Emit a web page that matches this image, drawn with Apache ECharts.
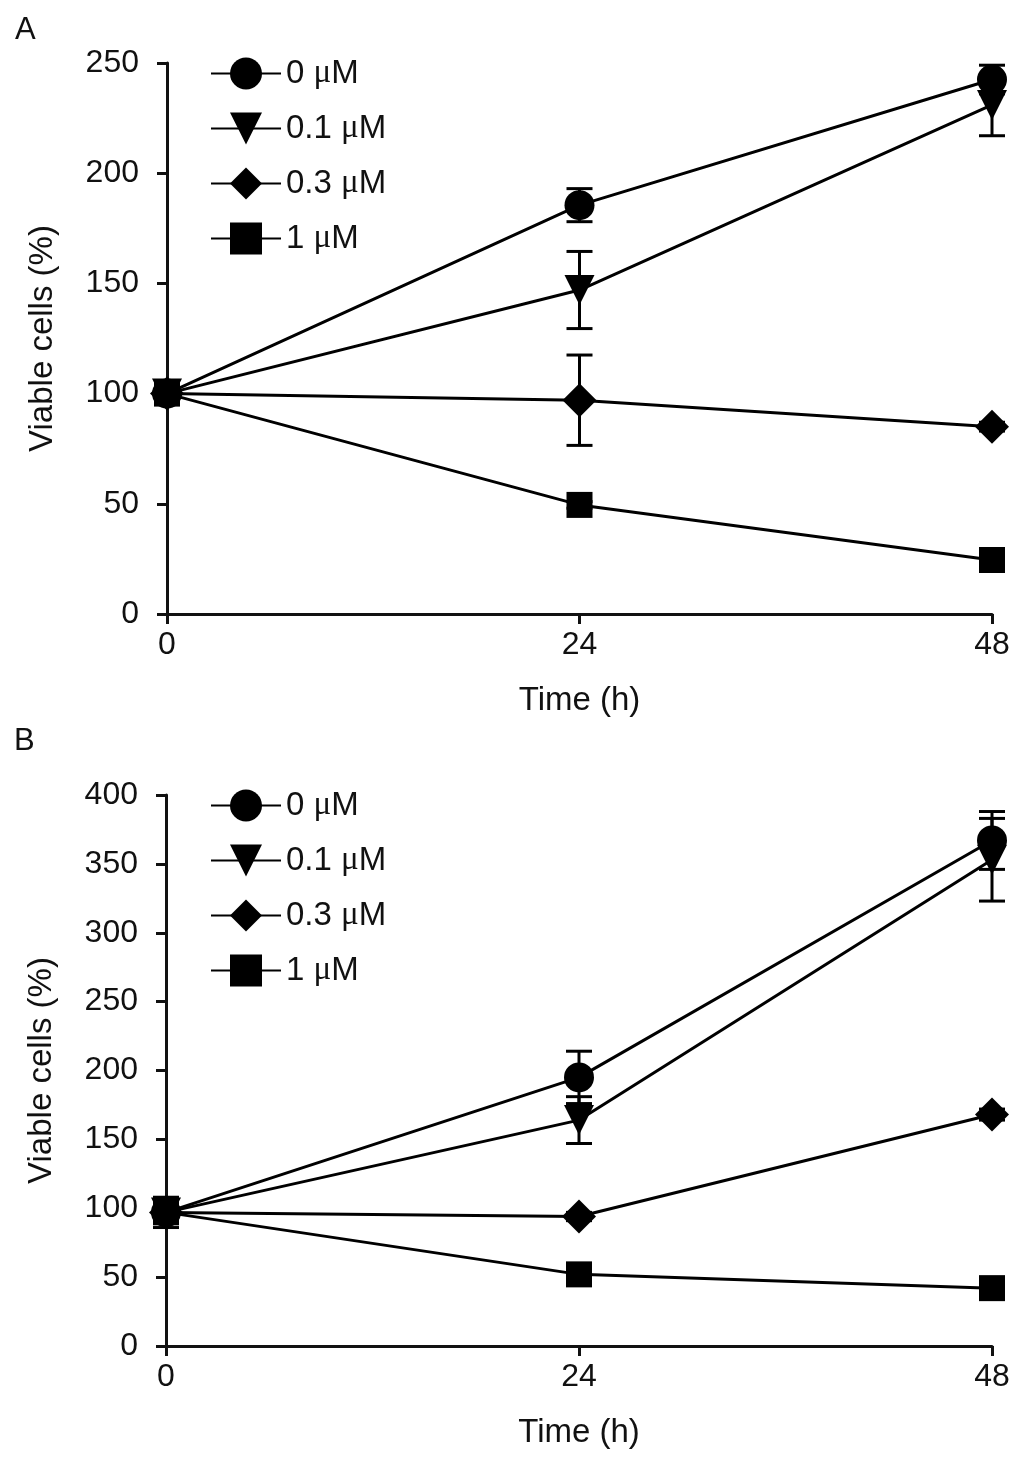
<!DOCTYPE html>
<html>
<head>
<meta charset="utf-8">
<script src="https://cdn.jsdelivr.net/npm/echarts@6/dist/echarts.min.js"></script>
<style>
html,body{margin:0;padding:0;background:#fff;}
#chart{width:1024px;height:1460px;}
</style>
</head>
<body>
<div id="chart"></div>
<script>
// ---- data ----
const times = [0, 24, 48];
const seriesNames = ['0 μM', '0.1 μM', '0.3 μM', '1 μM'];
const xTicks = [0, 24, 48];

// Panel A
const a0 = [100, 185.5, 242.5];
const a01 = [100, 147, 231];
const a03 = [100, 97, 85];
const a1 = [100, 49.5, 24.5];
const a0Err = [0, 7.5, 6.5];
const a01Err = [0, 17.5, 14];
const a03Err = [0, 20.5, 2];
const a1Err = [0, 1.5, 1.5];

// Panel B
const b0 = [97, 195, 367];
const b01 = [97, 164, 353];
const b03 = [97, 94, 168];
const b1 = [97, 52, 42];
const b0Err = [11, 19, 21];
const b01Err = [0, 17, 30];
const b03Err = [0, 3, 4];
const b1Err = [0, 2, 2];

// ---- chart ----
const FONT = 'Liberation Sans';
const INK = '#111';
const symbols = ['circle', 'triangle', 'diamond', 'rect'];
const rotates = [0, 180, 0, 0];
const sizes = [30, 30, 34, 26];

function lineSeries(name, vals, k, idx) {
  return {
    name: name, type: 'line', xAxisIndex: idx, yAxisIndex: idx,
    data: times.map((t, i) => [t, vals[i]]),
    symbol: symbols[k], symbolRotate: rotates[k], symbolSize: sizes[k],
    showAllSymbol: true,
    lineStyle: {color: '#000', width: 3},
    itemStyle: {color: '#000'},
    z: 3, clip: false, animation: false
  };
}
function errSeries(vals, errs, idx) {
  const d = [];
  times.forEach((t, i) => { if (errs[i] > 0) d.push([t, vals[i], errs[i]]); });
  return {
    type: 'custom', xAxisIndex: idx, yAxisIndex: idx, data: d, z: 2,
    animation: false, silent: true,
    renderItem: function (params, api) {
      const x = api.value(0), y = api.value(1), e = api.value(2);
      const top = api.coord([x, y + e]);
      const bot = api.coord([x, y - e]);
      const w = 13;
      const st = {stroke: '#000', lineWidth: 3};
      return {type: 'group', children: [
        {type: 'line', shape: {x1: top[0], y1: top[1], x2: bot[0], y2: bot[1]}, style: st},
        {type: 'line', shape: {x1: top[0] - w, y1: top[1], x2: top[0] + w, y2: top[1]}, style: st},
        {type: 'line', shape: {x1: bot[0] - w, y1: bot[1], x2: bot[0] + w, y2: bot[1]}, style: st}
      ]};
    }
  };
}

function xAx(idx) {
  return {
    type: 'value', gridIndex: idx, min: 0, max: 48, interval: 24,
    name: 'Time (h)', nameLocation: 'middle', nameGap: 70,
    nameTextStyle: {fontFamily: FONT, fontSize: 33, color: INK},
    axisLine: {show: true, lineStyle: {color: INK, width: 3}},
    axisTick: {show: true, length: 10, lineStyle: {color: INK, width: 3}},
    axisLabel: {fontFamily: FONT, fontSize: 32, color: INK, margin: 15,
      formatter: v => xTicks.includes(v) ? String(v) : ''},
    splitLine: {show: false}
  };
}
function yAx(idx, max) {
  return {
    type: 'value', gridIndex: idx, min: 0, max: max, interval: 50,
    name: 'Viable cells (%)', nameLocation: 'middle', nameGap: 108,
    nameTextStyle: {fontFamily: FONT, fontSize: 33, color: INK},
    axisLine: {show: true, lineStyle: {color: INK, width: 3}},
    axisTick: {show: true, length: 10, lineStyle: {color: INK, width: 3}},
    axisLabel: {fontFamily: FONT, fontSize: 32, color: INK, margin: 28},
    splitLine: {show: false}
  };
}
function legend(top) {
  return {
    data: seriesNames, orient: 'vertical', left: 205, top: top,
    itemWidth: 70, itemHeight: 40, itemGap: 22,
    selectedMode: false,
    textStyle: {fontFamily: FONT, fontSize: 33, color: INK, padding: [0, 0, 0, 0],
      rich: {u: {fontFamily: 'Liberation Serif', fontSize: 33, color: INK}}},
    formatter: n => n.replace('μ', '{u|μ}')
  };
}

const option = {
  backgroundColor: '#fff',
  animation: false,
  title: [
    {text: 'A', left: 10, top: 10, textStyle: {fontFamily: FONT, fontSize: 31, fontWeight: 'normal', color: INK}},
    {text: 'B', left: 9, top: 721, textStyle: {fontFamily: FONT, fontSize: 31, fontWeight: 'normal', color: INK}}
  ],
  legend: [legend(52), legend(784)],
  grid: [
    {left: 167, right: 32, top: 63, height: 551},
    {left: 166, right: 32, top: 795, height: 551}
  ],
  xAxis: [xAx(0), xAx(1)],
  yAxis: [yAx(0, 250), yAx(1, 400)],
  series: [
    errSeries(a0, a0Err, 0), errSeries(a01, a01Err, 0), errSeries(a03, a03Err, 0), errSeries(a1, a1Err, 0),
    lineSeries(seriesNames[0], a0, 0, 0), lineSeries(seriesNames[1], a01, 1, 0),
    lineSeries(seriesNames[2], a03, 2, 0), lineSeries(seriesNames[3], a1, 3, 0),
    errSeries(b0, b0Err, 1), errSeries(b01, b01Err, 1), errSeries(b03, b03Err, 1), errSeries(b1, b1Err, 1),
    lineSeries(seriesNames[0], b0, 0, 1), lineSeries(seriesNames[1], b01, 1, 1),
    lineSeries(seriesNames[2], b03, 2, 1), lineSeries(seriesNames[3], b1, 3, 1)
  ]
};
const chart = echarts.init(document.getElementById('chart'), null, {renderer: 'canvas'});
chart.setOption(option);
</script>
</body>
</html>
